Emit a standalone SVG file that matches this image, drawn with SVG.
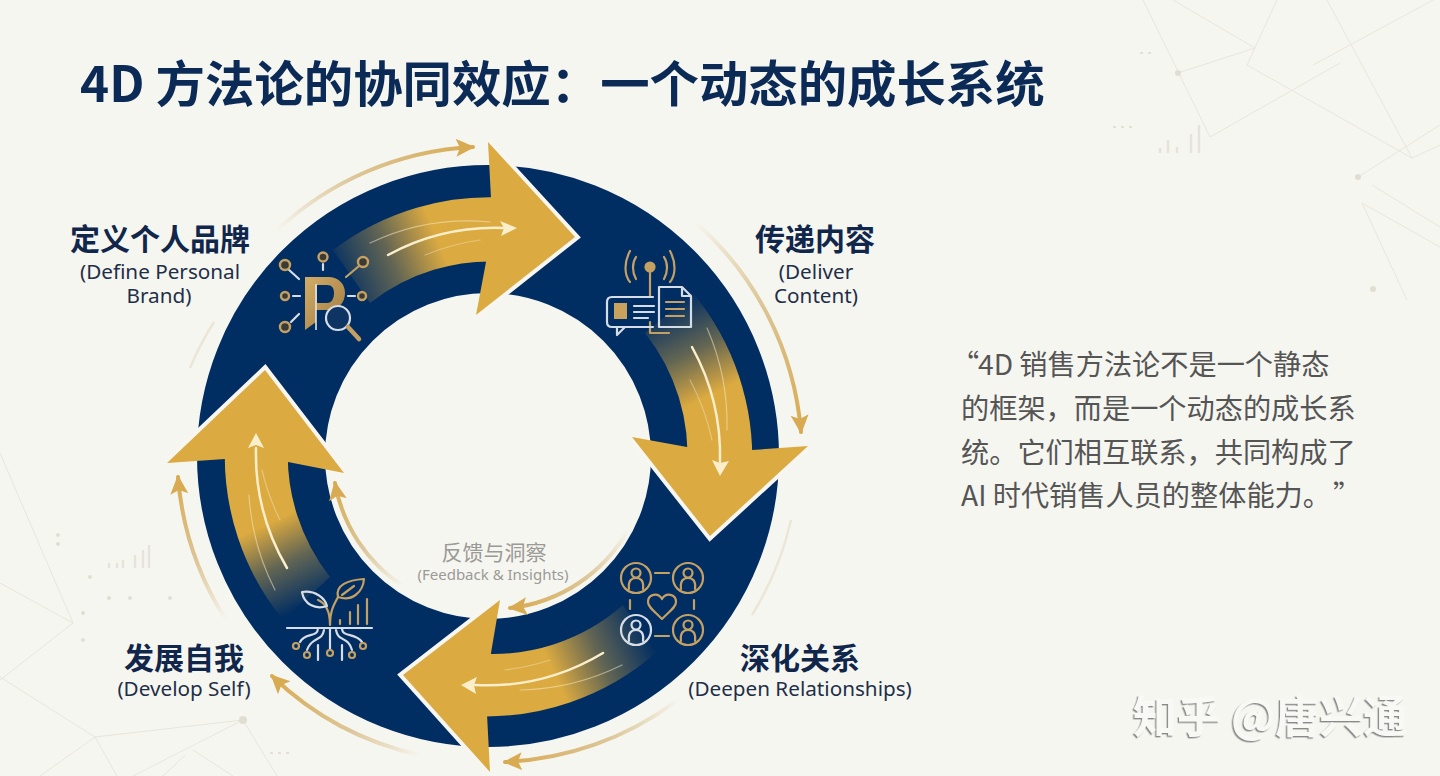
<svg xmlns="http://www.w3.org/2000/svg" width="1440" height="776" viewBox="0 0 1440 776">
<style>
text{font-family:"Noto Sans CJK SC","Noto Sans",sans-serif}
.en{font-family:"Noto Sans","Noto Sans CJK SC",sans-serif}
.title{font-size:49.4px;font-weight:700;fill:#0b2a56}
.h{font-size:30px;font-weight:700;fill:#10264a;text-anchor:middle}
.e{font-size:20.7px;fill:#1f2f48;text-anchor:middle}
.q{font-size:28.2px;fill:#555555}
.bg{fill:none;stroke:#e8e6db;stroke-width:1}
.dot{fill:#e0ded3}
.arc{fill:none;stroke-width:4;stroke-linecap:round}
.edge{fill:none;stroke:#f7f6f0;stroke-width:8;stroke-linejoin:miter}
.head{fill:#dbaa41}
.st{fill:none;stroke:#fbeecb;stroke-linecap:round}
.sh{fill:#fbeecb}
.ig{fill:none;stroke:#c4a063;stroke-width:2.2;stroke-linecap:round;stroke-linejoin:round}
.iw{fill:none;stroke:#d6dde5;stroke-width:2.2;stroke-linecap:round;stroke-linejoin:round}
</style>
<defs>
<marker id="ah" viewBox="0 0 20 20" refX="17" refY="10" markerWidth="20" markerHeight="20" markerUnits="userSpaceOnUse" orient="auto"><path d="M0,1 L19,10 L0,19 L4,10 Z" fill="#d8ab52"/></marker>
<linearGradient id="a1" gradientUnits="userSpaceOnUse" x1="340" y1="290" x2="475" y2="235"><stop offset="0" stop-color="#dbaa41" stop-opacity="0"/><stop offset=".4" stop-color="#dbaa41" stop-opacity=".45"/><stop offset=".75" stop-color="#dbaa41"/></linearGradient>
<linearGradient id="a2" gradientUnits="userSpaceOnUse" x1="665" y1="305" x2="725" y2="425"><stop offset="0" stop-color="#dbaa41" stop-opacity="0"/><stop offset=".4" stop-color="#dbaa41" stop-opacity=".45"/><stop offset=".75" stop-color="#dbaa41"/></linearGradient>
<linearGradient id="a3" gradientUnits="userSpaceOnUse" x1="645" y1="625" x2="520" y2="680"><stop offset="0" stop-color="#dbaa41" stop-opacity="0"/><stop offset=".4" stop-color="#dbaa41" stop-opacity=".45"/><stop offset=".75" stop-color="#dbaa41"/></linearGradient>
<linearGradient id="a4" gradientUnits="userSpaceOnUse" x1="310" y1="605" x2="258" y2="495"><stop offset="0" stop-color="#dbaa41" stop-opacity="0"/><stop offset=".4" stop-color="#dbaa41" stop-opacity=".45"/><stop offset=".75" stop-color="#dbaa41"/></linearGradient>
<linearGradient id="s1" gradientUnits="userSpaceOnUse" x1="275" y1="230" x2="473" y2="147"><stop offset="0" stop-color="#d8bd85" stop-opacity="0"/><stop offset=".45" stop-color="#dcc596"/><stop offset="1" stop-color="#d8ab52"/></linearGradient>
<linearGradient id="s2" gradientUnits="userSpaceOnUse" x1="695" y1="222" x2="799" y2="430"><stop offset="0" stop-color="#d8bd85" stop-opacity="0"/><stop offset=".45" stop-color="#dcc596"/><stop offset="1" stop-color="#d8ab52"/></linearGradient>
<linearGradient id="s3" gradientUnits="userSpaceOnUse" x1="680" y1="700" x2="505" y2="762"><stop offset="0" stop-color="#d8bd85" stop-opacity="0"/><stop offset=".45" stop-color="#dcc596"/><stop offset="1" stop-color="#d8ab52"/></linearGradient>
<linearGradient id="s4" gradientUnits="userSpaceOnUse" x1="420" y1="755" x2="272" y2="676"><stop offset="0" stop-color="#d8bd85" stop-opacity="0"/><stop offset=".45" stop-color="#dcc596"/><stop offset="1" stop-color="#d8ab52"/></linearGradient>
<linearGradient id="s5" gradientUnits="userSpaceOnUse" x1="226" y1="620" x2="178" y2="477"><stop offset="0" stop-color="#d8bd85" stop-opacity="0"/><stop offset=".45" stop-color="#dcc596"/><stop offset="1" stop-color="#d8ab52"/></linearGradient>
<linearGradient id="s6" gradientUnits="userSpaceOnUse" x1="403" y1="586" x2="335" y2="483"><stop offset="0" stop-color="#d8bd85" stop-opacity="0"/><stop offset=".45" stop-color="#dcc596"/><stop offset="1" stop-color="#d8ab52"/></linearGradient>
<linearGradient id="s7" gradientUnits="userSpaceOnUse" x1="628" y1="530" x2="510" y2="608"><stop offset="0" stop-color="#d8bd85" stop-opacity="0"/><stop offset=".45" stop-color="#dcc596"/><stop offset="1" stop-color="#d8ab52"/></linearGradient>
<linearGradient id="pg" x1="0" y1="0" x2="1" y2="1"><stop offset="0" stop-color="#d2ab66"/><stop offset="1" stop-color="#a07c42"/></linearGradient>
<filter id="wm" x="-5%" y="-20%" width="110%" height="140%"><feDropShadow dx="-1.4" dy="1.4" stdDeviation="0.5" flood-color="#8a8a8a"/></filter>
<path id="person" d="M-7,11 C-8,3 -5,0 0,0 C5,0 8,3 7,11 M-4.5,-5 a4.5,4.5 0 1 0 9,0 a4.5,4.5 0 1 0 -9,0"/>
</defs>
<rect width="1440" height="776" fill="#f6f6f1"/>
<g id="background">
<path class="bg" d="M1143,0 L1210,137 L1340,63 M1173,0 L1255,48 L1178,73 M1277,0 L1247,65 L1412,158 L1327,0 M1313,65 L1433,0 M1412,158 L1440,145 M1358,177 L1440,125 M1372,185 L1440,227 M1362,203 L1440,247 M1362,203 L1407,300"/>
<path class="bg" d="M0,453 L73,623 L0,583 M73,623 L0,680 M0,677 L95,737 L243,720 L133,776 M95,737 L40,776 M95,737 L117,776 M243,720 L277,776 M193,750 L233,776 M185,755 L163,776"/>
<circle class="dot" cx="1178" cy="73" r="3"/><circle class="dot" cx="1358" cy="177" r="3"/><circle class="dot" cx="1373" cy="289" r="3"/><circle class="dot" cx="243" cy="720" r="4"/><circle class="dot" cx="83" cy="613" r="2"/><circle class="dot" cx="83" cy="640" r="2"/><circle class="dot" cx="90" cy="577" r="2"/><circle class="dot" cx="109" cy="598" r="2"/><circle class="dot" cx="130" cy="598" r="2"/><circle class="dot" cx="170" cy="598" r="2"/><circle class="dot" cx="58" cy="535" r="2"/><circle class="dot" cx="58" cy="544" r="2"/>
<path fill="none" stroke="#e6e4da" stroke-width="2.5" d="M1160,153 V148 M1168,153 V140 M1177,153 V147 M1191,153 V134 M1199,153 V125 M109,568 V563 M117,568 V563 M123,568 V560 M135,568 V555 M143,568 V550 M149,568 V545"/>
<path fill="none" stroke="#e2e0d6" stroke-width="2" stroke-dasharray="3 5" d="M1113,127 H1137 M1140,53 H1156 M270,753 H290"/>
</g>
<text class="title" x="80" y="102">4D 方法论的协同效应：一个动态的成长系统</text>
<circle id="ring" cx="488" cy="456" r="227" fill="none" stroke="#002d62" stroke-width="128"/>
<g id="connectors" stroke-width="4" fill="none">
<path class="arc" stroke="url(#s1)" marker-end="url(#ah)" d="M275,232 A310,310 0 0 1 473,147"/>
<path class="arc" stroke="url(#s2)" marker-end="url(#ah)" d="M695,222 A313,313 0 0 1 801,432"/>
<path class="arc" stroke="url(#s3)" marker-end="url(#ah)" d="M675,702 A308,308 0 0 1 505,762"/>
<path class="arc" stroke="url(#s4)" marker-end="url(#ah)" d="M420,755 A308,308 0 0 1 272,676"/>
<path class="arc" stroke="url(#s5)" marker-end="url(#ah)" d="M226,620 A311,311 0 0 1 178,477"/>
<path class="arc" stroke="url(#s6)" marker-end="url(#ah)" d="M403,586 A155,155 0 0 1 335,483"/>
<path class="arc" stroke="url(#s7)" marker-end="url(#ah)" d="M628,530 A155,155 0 0 1 510,608"/>
<path fill="none" stroke="#ebe6d6" stroke-width="2.5" d="M791,520 A310,310 0 0 1 752,615 M190,368 A310,310 0 0 1 214,322"/>
</g>
<g id="node-define">
<path fill="url(#a1)" d="M333,250 A258,258 0 0 1 510,198 L505,262 A195,195 0 0 0 370,303 Z"/>
<polyline class="edge" points="488,142 575,237 476,315"/>
<polygon class="head" points="488,142 575,237 476,315 486,262 491,198"/>
<g class="st"><path stroke-width="2.5" d="M388,255 A225,225 0 0 1 504,228"/><path stroke-width="1.2" opacity=".5" d="M370,243 A225,225 0 0 1 490,222"/><path stroke-width="1.2" opacity=".4" d="M425,255 A225,225 0 0 1 480,240"/></g>
<path class="sh" d="M500,221 L517,228 L501,236 L504,228 Z"/>
<path fill="url(#pg)" fill-rule="evenodd" d="M305,277 H328 C339,277 345,284 345,293 C345,303 338,310 328,310 H316 V322 L305,330 Z M317,285 V303 H327 C332,303 334,298 334,293 C334,288 332,285 327,285 Z"/>
<path fill="none" stroke="#e4e6e6" stroke-width="1.6" d="M316,284 V330"/>
<circle cx="338" cy="318" r="12" fill="#0d3463" stroke="#d6dde5" stroke-width="2.2"/>
<path d="M348,327 L359,339" stroke="#c4a063" stroke-width="4.5" stroke-linecap="round"/>
<g class="iw"><path d="M323,264 V270 M288,269 L299,279 M348,296 H355 M293,296 H300 M291,322 L299,314"/></g>
<g fill="#3a3a36" stroke="#c4a063" stroke-width="2.4"><circle cx="323" cy="257" r="4.5"/><circle cx="363" cy="262" r="5"/><circle cx="362" cy="296" r="4"/><circle cx="285" cy="296" r="4"/><circle cx="285" cy="265" r="5"/><circle cx="285" cy="327" r="5"/></g>
<path class="ig" d="M346,277 L359,266"/>
<text class="h" x="160" y="250">定义个人品牌</text>
<text class="e en" x="160" y="279">(Define Personal</text>
<text class="e en" x="159" y="303">Brand)</text>
</g>
<g id="node-deliver">
<path fill="url(#a2)" d="M693,293 A260,260 0 0 1 752,470 L687,470 A197,197 0 0 0 645,333 Z"/>
<polyline class="edge" points="632,437 710,536 808,446"/>
<polygon class="head" points="632,437 687,447 752,450 808,446 710,536"/>
<g class="st"><path stroke-width="2.5" d="M692,347 A225,225 0 0 1 720,462"/><path stroke-width="1.2" opacity=".5" d="M707,328 A240,240 0 0 1 727,430"/><path stroke-width="1.2" opacity=".4" d="M690,380 A230,230 0 0 1 712,440"/></g>
<path class="sh" d="M712,460 L720,476 L729,461 L720,463 Z"/>
<g class="ig"><path d="M636,257 C632,263 632,272 636,279 M664,257 C668,263 668,272 664,279 M630,251 C624,262 624,275 630,282 M670,251 C676,262 676,275 670,282"/><path d="M650,271 V296"/><circle cx="650" cy="267" r="4.5" fill="#c4a063"/><path d="M650,333 H669 M650,322 V333"/></g>
<path class="iw" d="M653,297 H612 Q607,297 607,302 V322 Q607,327 612,327 H625 L617,335 L617,327 M653,327 H625 M634,306 H654 M634,312 H654 M634,318 H648"/>
<rect x="614" y="303" width="13" height="16" fill="#c9a25e"/>
<path class="iw" d="M659,287 H682 L691,296 V327 H659 Z M682,287 V296 H691"/>
<path class="ig" d="M666,302 H684 M666,309 H684 M666,316 H684"/>
<text class="h" x="815" y="250">传递内容</text>
<text class="e en" x="816" y="279">(Deliver</text>
<text class="e en" x="816" y="303">Content)</text>
</g>
<g id="node-deepen">
<path fill="url(#a3)" d="M657,652 A260,260 0 0 1 470,716 L474,653 A197,197 0 0 0 623,605 Z"/>
<polyline class="edge" points="500,600 403,675 490,772"/>
<polygon class="head" points="500,600 491,653 487,714 490,772 403,675"/>
<g class="st"><path stroke-width="2.5" d="M603,653 A225,225 0 0 1 475,685"/><path stroke-width="1.2" opacity=".5" d="M622,665 A240,240 0 0 1 520,690"/><path stroke-width="1.2" opacity=".4" d="M550,660 A240,240 0 0 1 505,670"/></g>
<path class="sh" d="M477,677 L461,685 L476,694 L474,685 Z"/>
<g class="ig"><circle cx="636" cy="578" r="15"/><circle cx="688" cy="578" r="15"/><circle cx="688" cy="630" r="15"/><use href="#person" x="636" y="578"/><use href="#person" x="688" y="578"/><use href="#person" x="688" y="630"/><path d="M655,573 H669 M630,600 V609 M694,600 V609 M655,636 H669"/><path d="M662,619 C654,611 648,607 648,602 C648,594 658,592 662,599 C666,592 676,594 676,602 C676,607 670,611 662,619 Z"/></g>
<g class="iw"><circle cx="636" cy="630" r="15"/><use href="#person" x="636" y="630"/></g>
<text class="h" x="800" y="669">深化关系</text>
<text class="e en" x="800" y="696">(Deepen Relationships)</text>
</g>
<g id="node-develop">
<path fill="url(#a4)" d="M283,620 A260,260 0 0 1 225,445 L288,445 A197,197 0 0 0 330,577 Z"/>
<polyline class="edge" points="167,463 265,370 344,473"/>
<polygon class="head" points="167,463 265,370 344,473 288,462 225,459"/>
<g class="st"><path stroke-width="2.5" d="M287,568 A225,225 0 0 1 256,448"/><path stroke-width="1.2" opacity=".5" d="M275,590 A240,240 0 0 1 249,495"/><path stroke-width="1.2" opacity=".4" d="M280,520 A230,230 0 0 1 262,470"/></g>
<path class="sh" d="M248,448 L256,433 L264,448 L256,445 Z"/>
<path class="iw" d="M287,628 H372 M330,628 V650 M318,628 C318,638 305,632 300,642 M342,628 C342,638 355,632 362,642 M324,630 C322,642 312,636 307,650 M336,630 C338,642 348,636 352,650 M318,645 V660 M342,645 V660"/>
<g class="ig"><path d="M330,625 C330,610 325,603 318,600 M330,625 C330,610 334,605 338,597"/><path d="M338,597 C335,585 348,580 364,579 C363,592 352,602 338,597 Z"/><path d="M342,595 L354,586"/><path d="M340,624 V620 M350,624 V612 M358,624 V605 M367,624 V599"/><circle cx="296" cy="646" r="3"/><circle cx="307" cy="655" r="3"/><circle cx="330" cy="653" r="3"/><circle cx="352" cy="655" r="3"/><circle cx="363" cy="646" r="3"/></g>
<path class="iw" d="M302,592 C315,590 325,598 327,606 C315,610 304,604 302,592 Z"/>
<text class="h" x="184" y="669">发展自我</text>
<text class="e en" x="184" y="696">(Develop Self)</text>
</g>
<g id="node-feedback">
<text x="494" y="560" font-size="21" fill="#9a9a96" text-anchor="middle">反馈与洞察</text>
<text class="en" x="493" y="580" font-size="15" fill="#9a9a96" text-anchor="middle">(Feedback &amp; Insights)</text>
</g>
<g id="quote">
<text class="q" x="951" y="375">“<tspan x="978">4D 销售方法论不是一个静态</tspan></text>
<text class="q" x="961" y="419">的框架，而是一个动态的成长系</text>
<text class="q" x="961" y="463">统。它们相互联系，共同构成了</text>
<text class="q" x="961" y="506">AI 时代销售人员的整体能力。<tspan x="1333">”</tspan></text>
</g>
<text x="1133" y="733" font-size="44" fill="#f8f8f5" font-weight="700" filter="url(#wm)">知乎 @唐兴通</text>
</svg>
